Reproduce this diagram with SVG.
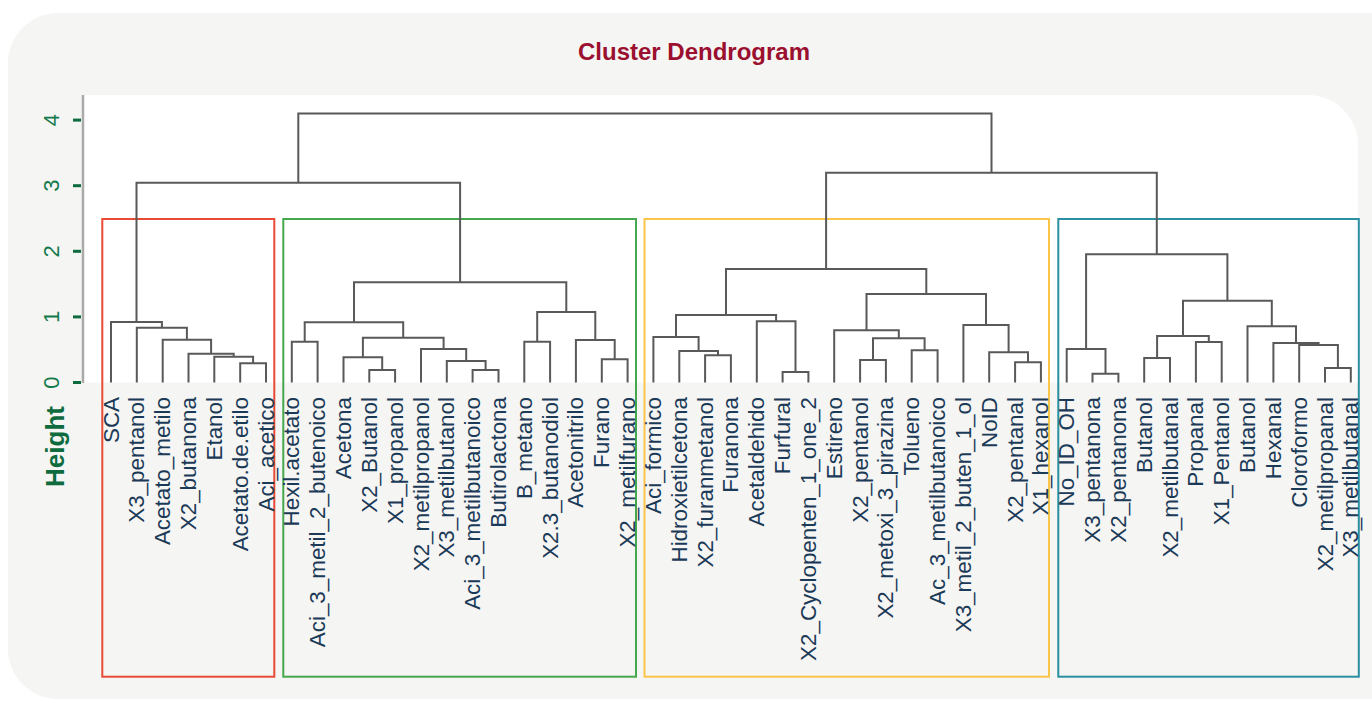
<svg xmlns="http://www.w3.org/2000/svg" width="1372" height="703" viewBox="0 0 1372 703">
<style>
.lbl{font-family:"Liberation Sans",Arial,sans-serif;font-size:22.4px;fill:#1b3a57;text-anchor:end}
.tick{font-family:"Liberation Sans",Arial,sans-serif;font-size:22px;fill:#137a4b;text-anchor:middle}
.den{fill:none;stroke:#595959;stroke-width:2;stroke-linejoin:miter}
.box{fill:none;stroke-width:2}
</style>
<rect x="0" y="0" width="1372" height="703" fill="#ffffff"/>
<rect id="card" x="8" y="13" width="1420" height="686" rx="50" fill="#f5f5f3"/>
<path id="plotarea" d="M83 95 H1308 A50 50 0 0 1 1358 145 V382.5 H83 Z" fill="#ffffff"/>
<g id="title"><text x="694" y="59.5" font-family="Liberation Sans,Arial,sans-serif" font-size="24" font-weight="bold" fill="#9b0f2f" text-anchor="middle">Cluster Dendrogram</text></g>
<g id="axis">
<line x1="83" y1="95" x2="83" y2="383" stroke="#aaaaaa" stroke-width="2.5"/>
<g stroke="#0d6b3d" stroke-width="3">
<line x1="73" y1="120.1" x2="81" y2="120.1"/>
<line x1="73" y1="185.7" x2="81" y2="185.7"/>
<line x1="73" y1="251.3" x2="81" y2="251.3"/>
<line x1="73" y1="316.9" x2="81" y2="316.9"/>
<line x1="73" y1="382.5" x2="81" y2="382.5"/>
</g>
<text class="tick" transform="translate(58.5,120.1) rotate(-90)">4</text>
<text class="tick" transform="translate(58.5,185.7) rotate(-90)">3</text>
<text class="tick" transform="translate(58.5,251.3) rotate(-90)">2</text>
<text class="tick" transform="translate(58.5,316.9) rotate(-90)">1</text>
<text class="tick" transform="translate(58.5,382.5) rotate(-90)">0</text>
<text transform="translate(63.5,446.5) rotate(-90)" font-family="Liberation Sans,Arial,sans-serif" font-size="26" font-weight="bold" fill="#0d6b3d" text-anchor="middle">Height</text>
</g>
<g id="clusters">
<rect class="box" x="102.3" y="219" width="172" height="457.7" stroke="#e84a35"/>
<rect class="box" x="283.3" y="219" width="352.7" height="457.7" stroke="#46a84c"/>
<rect class="box" x="644.5" y="219" width="404.5" height="457.7" stroke="#fbc54a"/>
<rect class="box" x="1058.3" y="219" width="300.5" height="457.7" stroke="#2a8fa0"/>
</g>
<g id="connectors" class="den">
<path d="M240.2 382.5V363.3H266V382.5"/>
<path d="M214.3 382.5V356.7H253.1V363.3"/>
<path d="M188.5 382.5V353.7H233.7V356.7"/>
<path d="M162.7 382.5V339.7H211.1V353.7"/>
<path d="M136.8 382.5V327.7H186.9V339.7"/>
<path d="M111 382.5V322H161.9V327.7"/>
<path d="M291.8 382.5V341.7H317.6V382.5"/>
<path d="M369.3 382.5V370H395.1V382.5"/>
<path d="M343.5 382.5V357.3H382.2V370"/>
<path d="M472.6 382.5V370H498.5V382.5"/>
<path d="M446.8 382.5V361H485.6V370"/>
<path d="M421 382.5V349H466.2V361"/>
<path d="M362.9 357.3V337.7H443.6V349"/>
<path d="M304.7 341.7V322.3H403.2V337.7"/>
<path d="M524.3 382.5V341.7H550.1V382.5"/>
<path d="M601.8 382.5V359.3H627.6V382.5"/>
<path d="M575.9 382.5V340H614.7V359.3"/>
<path d="M537.2 341.7V312H595.3V340"/>
<path d="M354 322.3V282.3H566.3V312"/>
<path d="M136.5 322V182.7H460.1V282.3"/>
<path d="M705.1 382.5V355.3H730.9V382.5"/>
<path d="M679.3 382.5V351H718V355.3"/>
<path d="M653.4 382.5V337H698.6V351"/>
<path d="M782.6 382.5V372H808.4V382.5"/>
<path d="M756.8 382.5V321.3H795.5V372"/>
<path d="M676 337V315H776.1V321.3"/>
<path d="M860.1 382.5V360H885.9V382.5"/>
<path d="M911.7 382.5V350.3H937.6V382.5"/>
<path d="M873 360V338.3H924.6V350.3"/>
<path d="M834.2 382.5V330.3H898.8V338.3"/>
<path d="M1015.1 382.5V362.3H1040.9V382.5"/>
<path d="M989.2 382.5V352.3H1028V362.3"/>
<path d="M963.4 382.5V325H1008.6V352.3"/>
<path d="M866.5 330.3V294H986V325"/>
<path d="M726 315V269H926.3V294"/>
<path d="M1092.5 382.5V373.7H1118.4V382.5"/>
<path d="M1066.7 382.5V349H1105.5V373.7"/>
<path d="M1144.2 382.5V358H1170V382.5"/>
<path d="M1195.9 382.5V342H1221.7V382.5"/>
<path d="M1157.1 358V336H1208.8V342"/>
<path d="M1325 382.5V368H1350.8V382.5"/>
<path d="M1299.2 382.5V345H1337.9V368"/>
<path d="M1273.4 382.5V343H1318.6V345"/>
<path d="M1247.5 382.5V326.3H1296V343"/>
<path d="M1183 336V300.7H1271.8V326.3"/>
<path d="M1086.1 349V254.3H1227.4V300.7"/>
<path d="M826.1 269V172.7H1156.8V254.3"/>
<path d="M298.3 182.7V113.5H991.5V172.7"/>
</g>
<g id="leaves">
<g id="n0"><text class="lbl" transform="translate(118.5,397) rotate(-90)">SCA</text></g>
<g id="n1"><text class="lbl" transform="translate(144.3,397) rotate(-90)">X3_pentanol</text></g>
<g id="n2"><text class="lbl" transform="translate(170.2,397) rotate(-90)">Acetato_metilo</text></g>
<g id="n3"><text class="lbl" transform="translate(196,397) rotate(-90)">X2_butanona</text></g>
<g id="n4"><text class="lbl" transform="translate(221.8,397) rotate(-90)">Etanol</text></g>
<g id="n5"><text class="lbl" transform="translate(247.7,397) rotate(-90)">Acetato.de.etilo</text></g>
<g id="n6"><text class="lbl" transform="translate(273.5,397) rotate(-90)">Aci_acetico</text></g>
<g id="n7"><text class="lbl" transform="translate(299.3,397) rotate(-90)">Hexil.acetato</text></g>
<g id="n8"><text class="lbl" transform="translate(325.1,397) rotate(-90)">Aci_3_metil_2_butenoico</text></g>
<g id="n9"><text class="lbl" transform="translate(351,397) rotate(-90)">Acetona</text></g>
<g id="n10"><text class="lbl" transform="translate(376.8,397) rotate(-90)">X2_Butanol</text></g>
<g id="n11"><text class="lbl" transform="translate(402.6,397) rotate(-90)">X1_propanol</text></g>
<g id="n12"><text class="lbl" transform="translate(428.5,397) rotate(-90)">X2_metilpropanol</text></g>
<g id="n13"><text class="lbl" transform="translate(454.3,397) rotate(-90)">X3_metilbutanol</text></g>
<g id="n14"><text class="lbl" transform="translate(480.1,397) rotate(-90)">Aci_3_metilbutanoico</text></g>
<g id="n15"><text class="lbl" transform="translate(506,397) rotate(-90)">Butirolactona</text></g>
<g id="n16"><text class="lbl" transform="translate(531.8,397) rotate(-90)">B_metano</text></g>
<g id="n17"><text class="lbl" transform="translate(557.6,397) rotate(-90)">X2.3_butanodiol</text></g>
<g id="n18"><text class="lbl" transform="translate(583.4,397) rotate(-90)">Acetonitrilo</text></g>
<g id="n19"><text class="lbl" transform="translate(609.3,397) rotate(-90)">Furano</text></g>
<g id="n20"><text class="lbl" transform="translate(635.1,397) rotate(-90)">X2_metilfurano</text></g>
<g id="n21"><text class="lbl" transform="translate(660.9,397) rotate(-90)">Aci_formico</text></g>
<g id="n22"><text class="lbl" transform="translate(686.8,397) rotate(-90)">Hidroxietilcetona</text></g>
<g id="n23"><text class="lbl" transform="translate(712.6,397) rotate(-90)">X2_furanmetanol</text></g>
<g id="n24"><text class="lbl" transform="translate(738.4,397) rotate(-90)">Furanona</text></g>
<g id="n25"><text class="lbl" transform="translate(764.3,397) rotate(-90)">Acetaldehido</text></g>
<g id="n26"><text class="lbl" transform="translate(790.1,397) rotate(-90)">Furfural</text></g>
<g id="n27"><text class="lbl" transform="translate(815.9,397) rotate(-90)">X2_Cyclopenten_1_one_2</text></g>
<g id="n28"><text class="lbl" transform="translate(841.7,397) rotate(-90)">Estireno</text></g>
<g id="n29"><text class="lbl" transform="translate(867.6,397) rotate(-90)">X2_pentanol</text></g>
<g id="n30"><text class="lbl" transform="translate(893.4,397) rotate(-90)">X2_metoxi_3_pirazina</text></g>
<g id="n31"><text class="lbl" transform="translate(919.2,397) rotate(-90)">Tolueno</text></g>
<g id="n32"><text class="lbl" transform="translate(945.1,397) rotate(-90)">Ac_3_metilbutanoico</text></g>
<g id="n33"><text class="lbl" transform="translate(970.9,397) rotate(-90)">X3_metil_2_buten_1_ol</text></g>
<g id="n34"><text class="lbl" transform="translate(996.7,397) rotate(-90)">NoID</text></g>
<g id="n35"><text class="lbl" transform="translate(1022.6,397) rotate(-90)">X2_pentanal</text></g>
<g id="n36"><text class="lbl" transform="translate(1048.4,397) rotate(-90)">X1_hexanol</text></g>
<g id="n37"><text class="lbl" transform="translate(1074.2,397) rotate(-90)">No_ID_OH</text></g>
<g id="n38"><text class="lbl" transform="translate(1100,397) rotate(-90)">X3_pentanona</text></g>
<g id="n39"><text class="lbl" transform="translate(1125.9,397) rotate(-90)">X2_pentanona</text></g>
<g id="n40"><text class="lbl" transform="translate(1151.7,397) rotate(-90)">Butanol</text></g>
<g id="n41"><text class="lbl" transform="translate(1177.5,397) rotate(-90)">X2_metilbutanal</text></g>
<g id="n42"><text class="lbl" transform="translate(1203.4,397) rotate(-90)">Propanal</text></g>
<g id="n43"><text class="lbl" transform="translate(1229.2,397) rotate(-90)">X1_Pentanol</text></g>
<g id="n44"><text class="lbl" transform="translate(1255,397) rotate(-90)">Butanol</text></g>
<g id="n45"><text class="lbl" transform="translate(1280.9,397) rotate(-90)">Hexanal</text></g>
<g id="n46"><text class="lbl" transform="translate(1306.7,397) rotate(-90)">Cloroformo</text></g>
<g id="n47"><text class="lbl" transform="translate(1332.5,397) rotate(-90)">X2_metilpropanal</text></g>
<g id="n48"><text class="lbl" transform="translate(1358.3,397) rotate(-90)">X3_metilbutanal</text></g>
</g>
</svg>
